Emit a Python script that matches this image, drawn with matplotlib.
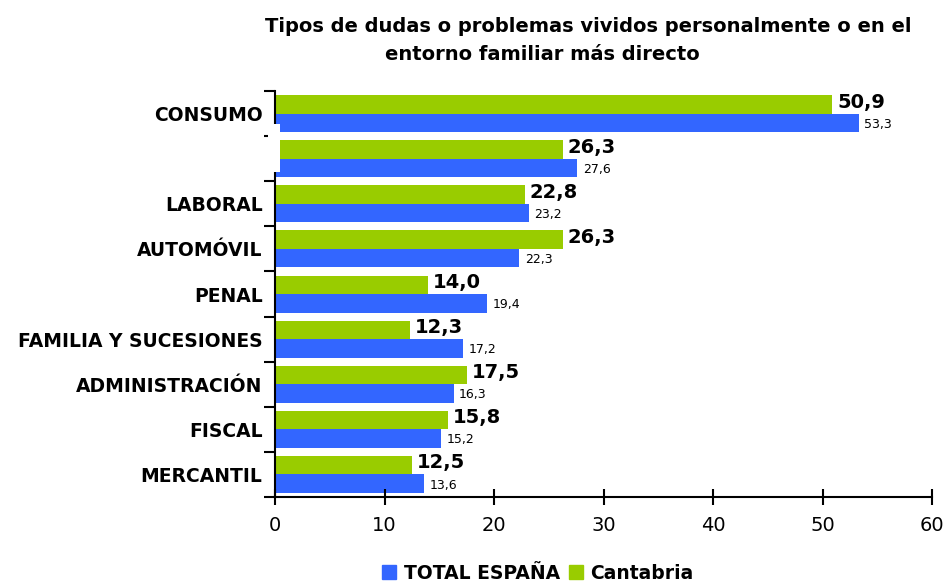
import matplotlib.pyplot as plt
from matplotlib.patches import Patch, Rectangle
import numpy as np

plt.rcParams['font.family'] = ['DejaVu Sans']

categorias = ['CONSUMO', '', 'LABORAL', 'AUTOMÓVIL', 'PENAL',
              'FAMILIA Y SUCESIONES', 'ADMINISTRACIÓN', 'FISCAL', 'MERCANTIL']
total_espana = [53.3, 27.6, 23.2, 22.3, 19.4, 17.2, 16.3, 15.2, 13.6]
cantabria = [50.9, 26.3, 22.8, 26.3, 14.0, 12.3, 17.5, 15.8, 12.5]

azul = '#3366FF'
verde = '#99CC00'

fig = plt.figure(figsize=(9.47, 5.83), dpi=100)
ax = fig.add_axes([0.2904, 0.1475, 0.6938, 0.6964])

y = np.arange(len(categorias))
h = 0.41
ax.barh(y - h / 2, cantabria, height=h, color=verde)
ax.barh(y + h / 2, total_espana, height=h, color=azul)

def fmt(v):
    return f"{v:.1f}".replace('.', ',')

for yi, v in zip(y, cantabria):
    ax.text(v + 0.45, yi - h / 2 - 0.05, fmt(v), va='center', ha='left',
            fontsize=14, fontweight='bold')
for yi, v in zip(y, total_espana):
    ax.text(v + 0.5, yi + h / 2 + 0.03, fmt(v), va='center', ha='left',
            fontsize=9)

ax.set_xlim(0, 60)
ax.set_ylim(len(categorias) - 0.5, -0.5)
ax.set_xticks(range(0, 61, 10))
ax.tick_params(axis='x', direction='inout', length=12, width=1.5,
               labelsize=14, pad=8)

ax.set_yticks(y)
ax.set_yticklabels(categorias, fontsize=13.5, fontweight='bold')
ax.tick_params(axis='y', length=0, pad=9)
ax.set_yticks(np.arange(-0.5, len(categorias), 1), minor=True)
ax.tick_params(axis='y', which='minor', direction='out', length=8, width=1.5)

for s in ['top', 'right']:
    ax.spines[s].set_visible(False)
for s in ['left', 'bottom']:
    ax.spines[s].set_linewidth(1.5)

# hueco blanco junto a la segunda categoría
ax.add_patch(Rectangle((-0.6, 0.24), 1.05, 1.06, facecolor='white',
                       edgecolor='none', zorder=10, clip_on=False))

fig.text(0.621, 0.954, 'Tipos de dudas o problemas vividos personalmente o en el',
         ha='center', va='center', fontsize=14, fontweight='bold')
fig.text(0.573, 0.906, 'entorno familiar más directo',
         ha='center', va='center', fontsize=14, fontweight='bold')

handles = [Patch(color=azul, label='TOTAL ESPAÑA'),
           Patch(color=verde, label='Cantabria')]
leg = fig.legend(handles=handles, loc='center', ncol=2,
                 bbox_to_anchor=(0.568, 0.017), frameon=False,
                 handlelength=0.75, handleheight=0.75, handletextpad=0.4,
                 columnspacing=0.5, prop={'weight': 'bold', 'size': 13.5})

fig.savefig('out.png', dpi=100)
